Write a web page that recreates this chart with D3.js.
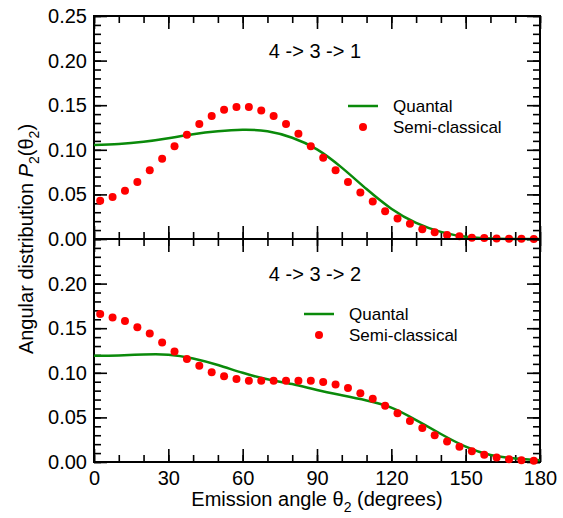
<!DOCTYPE html>
<html>
<head>
<meta charset="utf-8">
<script src="https://cdn.jsdelivr.net/npm/d3@7"></script>
<style>
  body { margin: 0; background: #fff; }
  svg text { font-family: "Liberation Sans", Arial, Helvetica, sans-serif; fill: #000; }
</style>
</head>
<body>
<div id="chart"></div>
<script>
// semi-classical points every 5 degrees (2.5 ... 177.5)
var semiAngles = d3.range(2.5, 180, 5);
var semiTop = [0.043, 0.047, 0.054, 0.064, 0.077, 0.090, 0.104, 0.117, 0.129, 0.138, 0.145, 0.148,
               0.148, 0.144, 0.138, 0.129, 0.118, 0.104, 0.091, 0.077, 0.064, 0.052, 0.042, 0.031,
               0.023, 0.017, 0.011, 0.0075, 0.0045, 0.003, 0.0015, 0.001, 0.0005, 0.0003, 0.0002, 0.0001];
var semiBot = [0.166, 0.162, 0.158, 0.151, 0.144, 0.134, 0.124, 0.1155, 0.108, 0.1005, 0.096, 0.093,
               0.091, 0.091, 0.091, 0.091, 0.091, 0.091, 0.0897, 0.087, 0.083, 0.077, 0.071, 0.063,
               0.0546, 0.046, 0.038, 0.030, 0.023, 0.017, 0.012, 0.008, 0.005, 0.003, 0.002, 0.0015];

// quantal curve sampled every 10 degrees
var quantAngles = d3.range(0, 181, 10);
var quantTop = [0.1055, 0.1065, 0.109, 0.113, 0.1175, 0.1208, 0.1225, 0.1208, 0.1135, 0.1005,
                0.080, 0.056, 0.034, 0.018, 0.008, 0.0025, 0.0005, 0.0001, 0];
var quantBot = [0.119, 0.1195, 0.1205, 0.1203, 0.116, 0.1087, 0.100, 0.0927, 0.0874, 0.0807,
                0.0748, 0.069, 0.061, 0.047, 0.0314, 0.0172, 0.0078, 0.004, 0.002];

var panels = [
  {title: "4 -> 3 -> 1", semi: semiTop, quant: quantTop, top: 16, labels: [0, 0.05, 0.10, 0.15, 0.20, 0.25],
   legend: {x: 348, y: 106}},
  {title: "4 -> 3 -> 2", semi: semiBot, quant: quantBot, top: 239, labels: [0, 0.05, 0.10, 0.15, 0.20],
   legend: {x: 304, y: 314}}
];
var xTicks = [0, 30, 60, 90, 120, 150, 180];

var W = 563, H = 518;
var left = 94, right = 540, ph = 223;
var green = "#0a8a0a", red = "#ff0000";

var svg = d3.select("#chart").append("svg")
  .attr("width", W).attr("height", H);

var x = d3.scaleLinear().domain([0, 180]).range([left, right]);
var fmt = d3.format(".2f");

panels.forEach(function(p, i) {
  var y = d3.scaleLinear().domain([0, 0.25]).range([p.top + ph, p.top]);
  var g = svg.append("g");

  // ticks, all pointing inward
  var major = [
    d3.axisBottom(x).tickValues(xTicks).tickSizeInner(-13).tickSizeOuter(0).tickFormat(""),
    d3.axisTop(x).tickValues(xTicks).tickSizeInner(-13).tickSizeOuter(0).tickFormat(""),
    d3.axisLeft(y).tickValues(p.labels).tickSizeInner(-13).tickSizeOuter(0).tickPadding(7).tickFormat(fmt),
    d3.axisRight(y).tickValues(d3.range(0, 0.2501, 0.05)).tickSizeInner(-13).tickSizeOuter(0).tickFormat("")
  ];
  var minorX = d3.range(0, 181, 10), minorY = d3.range(0, 0.2501, 0.01);
  var minor = [
    d3.axisBottom(x).tickValues(minorX).tickSizeInner(-7).tickSizeOuter(0).tickFormat(""),
    d3.axisTop(x).tickValues(minorX).tickSizeInner(-7).tickSizeOuter(0).tickFormat(""),
    d3.axisLeft(y).tickValues(minorY).tickSizeInner(-7).tickSizeOuter(0).tickFormat(""),
    d3.axisRight(y).tickValues(minorY).tickSizeInner(-7).tickSizeOuter(0).tickFormat("")
  ];
  var pos = ["translate(0," + (p.top + ph) + ")", "translate(0," + p.top + ")",
             "translate(" + left + ",0)", "translate(" + right + ",0)"];
  major.concat(minor).forEach(function(ax, k) {
    var a = g.append("g").attr("transform", pos[k % 4]).call(ax);
    a.select(".domain").remove();
    a.selectAll("line").attr("stroke", "#000").attr("stroke-width", 1.6);
    a.selectAll("text").attr("font-size", 20).attr("fill", "#000")
      .attr("font-family", "Liberation Sans, Arial, sans-serif");
  });

  // x labels only under the lower panel
  if (i === 1) {
    var xa = g.append("g").attr("transform", "translate(0," + (p.top + ph) + ")")
      .call(d3.axisBottom(x).tickValues(xTicks).tickSize(0).tickPadding(9));
    xa.select(".domain").remove();
    xa.selectAll("text").attr("font-size", 20).attr("fill", "#000")
      .attr("font-family", "Liberation Sans, Arial, sans-serif");
  }

  // frame
  g.append("rect").attr("x", left).attr("y", p.top).attr("width", right - left).attr("height", ph)
    .attr("fill", "none").attr("stroke", "#000").attr("stroke-width", 2);

  // quantal line
  var line = d3.line().x(function(d, j) { return x(quantAngles[j]); })
    .y(function(d) { return y(d); }).curve(d3.curveNatural);
  g.append("path").datum(p.quant).attr("d", line)
    .attr("fill", "none").attr("stroke", green).attr("stroke-width", 2.5);

  // semi-classical points
  g.selectAll("circle.semi").data(p.semi).enter().append("circle")
    .attr("class", "semi")
    .attr("cx", function(d, j) { return x(semiAngles[j]); })
    .attr("cy", function(d) { return y(d); })
    .attr("r", 4).attr("fill", red);

  // title
  g.append("text").attr("x", 315).attr("y", p.top + 42).attr("text-anchor", "middle")
    .attr("font-size", 20).text(p.title);

  // legend
  var L = p.legend;
  g.append("line").attr("x1", L.x).attr("x2", L.x + 30).attr("y1", L.y).attr("y2", L.y)
    .attr("stroke", green).attr("stroke-width", 2.5);
  g.append("text").attr("x", L.x + 45).attr("y", L.y + 6).attr("font-size", 17).text("Quantal");
  g.append("circle").attr("cx", L.x + 15).attr("cy", L.y + 21).attr("r", 4).attr("fill", red);
  g.append("text").attr("x", L.x + 45).attr("y", L.y + 27).attr("font-size", 17).text("Semi-classical");
});

// x axis title
var xt = svg.append("text").attr("x", 317).attr("y", 506).attr("text-anchor", "middle").attr("font-size", 20);
xt.append("tspan").text("Emission angle \u03b8");
xt.append("tspan").attr("font-size", 14).attr("dy", 6).text("2");
xt.append("tspan").attr("dy", -6).text(" (degrees)");

// y axis title
var yt = svg.append("text").attr("transform", "translate(33,239) rotate(-90)")
  .attr("text-anchor", "middle").attr("font-size", 20);
yt.append("tspan").text("Angular distribution ");
yt.append("tspan").attr("font-style", "italic").text("P");
yt.append("tspan").attr("font-size", 14).attr("dy", 6).text("2");
yt.append("tspan").attr("dy", -6).text("(\u03b8");
yt.append("tspan").attr("font-size", 14).attr("dy", 6).text("2");
yt.append("tspan").attr("dy", -6).text(")");
</script>
</body>
</html>
